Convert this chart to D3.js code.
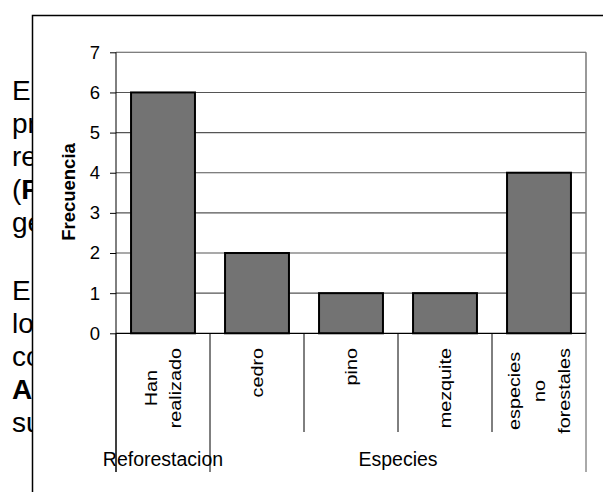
<!DOCTYPE html>
<html>
<head>
    <meta charset="utf-8">
    <title>Frecuencia</title>
    <style>
        body { margin: 0; background: #fff; }
        svg text { font-family: Arial, "Liberation Sans", sans-serif; }
    </style>
</head>
<body>
    <script src="https://cdnjs.cloudflare.com/ajax/libs/d3/7.9.0/d3.min.js"></script>
    <script>
        // chart data
        const categories = ["Han realizado", "cedro", "pino", "mezquite", "especies no forestales"];
        const catLines = [["Han", "realizado"], ["cedro"], ["pino"], ["mezquite"], ["especies", "no", "forestales"]];
        const values = [6, 2, 1, 1, 4];
        const groupNames = ["Reforestacion", "Especies"];
        const groupSpans = [1, 4];
        const yTicks = [0, 1, 2, 3, 4, 5, 6, 7];

        // page text behind the chart: only the part left of the frame shows
        const para1 = [["E"], ["pr"], ["re"], ["(", "F"], ["ge"]];
        const para2 = [["E"], ["lo"], ["co"], ["", "A"], ["su"]];

        const width = 603;
        const height = 492;

        const svg = d3.select("body")
            .append("svg")
            .attr("width", width)
            .attr("height", height)
            .style("font-family", "Arial, 'Liberation Sans', sans-serif");

        svg.append("clipPath").attr("id", "page")
            .append("rect").attr("x", 0).attr("y", 0).attr("width", 32).attr("height", height);

        const page = svg.append("g").attr("clip-path", "url(#page)");
        function drawPara(lines, y0) {
            lines.forEach((l, i) => {
                const t = page.append("text")
                    .attr("x", 12)
                    .attr("y", y0 + i * 33)
                    .attr("font-size", 28)
                    .attr("fill", "#000");
                if (l.length === 1) {
                    t.text(l[0]);
                } else {
                    t.append("tspan").text(l[0]);
                    t.append("tspan").attr("font-weight", "bold").text(l[1]);
                }
            });
        }
        drawPara(para1, 100);
        drawPara(para2, 300);

        // chart frame
        svg.append("path")
            .attr("d", `M32.5,${height}V15.5H${width}`)
            .attr("fill", "none")
            .attr("stroke", "#000")
            .attr("stroke-width", 1.5);

        const x = d3.scaleBand()
            .domain(categories)
            .range([116, 586]);

        const y = d3.scaleLinear()
            .domain([0, 7])
            .range([333.3, 52.3]);

        const barW = x.bandwidth() * 0.68;

        // gridlines
        svg.append("g")
            .selectAll("line")
            .data(yTicks.slice(1))
            .join("line")
            .attr("x1", x.range()[0]).attr("x2", x.range()[1])
            .attr("y1", d => y(d)).attr("y2", d => y(d))
            .attr("stroke", "#555")
            .attr("stroke-width", 1.1);

        // right border of plot
        svg.append("line")
            .attr("x1", x.range()[1]).attr("x2", x.range()[1])
            .attr("y1", y(7)).attr("y2", y(0))
            .attr("stroke", "#777")
            .attr("stroke-width", 1.5);

        // bars
        svg.append("g")
            .selectAll("rect")
            .data(values)
            .join("rect")
            .attr("x", (d, i) => x(categories[i]) + (x.bandwidth() - barW) / 2)
            .attr("y", d => y(d))
            .attr("width", barW)
            .attr("height", d => y(0) - y(d))
            .attr("fill", "#737373")
            .attr("stroke", "#000")
            .attr("stroke-width", 2);

        // y axis
        const yAxis = svg.append("g")
            .attr("transform", `translate(${x.range()[0]},0)`)
            .call(d3.axisLeft(y).tickValues(yTicks).tickFormat(d3.format("d")).tickSize(6).tickPadding(10));
        yAxis.attr("font-family", null);
        yAxis.select(".domain").remove();
        yAxis.selectAll("line").attr("stroke", "#000");
        yAxis.selectAll("text")
            .attr("font-size", 18.5)
            .attr("fill", "#000");

        svg.append("line")
            .attr("x1", x.range()[0]).attr("x2", x.range()[0])
            .attr("y1", y(7)).attr("y2", 472)
            .attr("stroke", "#000")
            .attr("stroke-width", 1);

        // x axis line
        svg.append("line")
            .attr("x1", x.range()[0]).attr("x2", x.range()[1])
            .attr("y1", y(0)).attr("y2", y(0))
            .attr("stroke", "#000")
            .attr("stroke-width", 1.2);

        // category separators: long at group borders, short otherwise
        const groupEdges = [0];
        groupSpans.forEach(s => groupEdges.push(groupEdges[groupEdges.length - 1] + s));
        d3.range(categories.length + 1).forEach(i => {
            const xp = x.range()[0] + i * x.step();
            const long = groupEdges.includes(i);
            svg.append("line")
                .attr("x1", xp).attr("x2", xp)
                .attr("y1", y(0)).attr("y2", long ? 472 : 432)
                .attr("stroke", i === categories.length ? "#555" : "#000")
                .attr("stroke-width", 1);
        });

        // category labels (rotated, longest line ends at the top)
        const lineGap = 25;
        catLines.forEach((lines, i) => {
            const cx = x(categories[i]) + x.bandwidth() / 2;
            const g = svg.append("g")
                .attr("transform", `translate(${cx},348) rotate(-90) scale(1.2,1)`);
            const texts = lines.map((l, j) => g.append("text")
                .attr("y", (j - (lines.length - 1) / 2) * lineGap + 6)
                .attr("text-anchor", "middle")
                .attr("font-size", 16.5)
                .attr("fill", "#000")
                .text(l));
            const maxW = d3.max(texts, t => t.node().getComputedTextLength());
            texts.forEach(t => t.attr("x", -maxW / 2));
        });

        // group labels
        let start = 0;
        groupNames.forEach((name, k) => {
            const x0 = x.range()[0] + start * x.step();
            const x1 = x0 + groupSpans[k] * x.step();
            svg.append("text")
                .attr("x", (x0 + x1) / 2)
                .attr("y", 466)
                .attr("text-anchor", "middle")
                .attr("font-size", 19.5)
                .attr("fill", "#000")
                .text(name);
            start += groupSpans[k];
        });

        // y title
        svg.append("text")
            .attr("transform", "translate(75,192) rotate(-90)")
            .attr("text-anchor", "middle")
            .attr("font-size", 18.5)
            .attr("font-weight", "bold")
            .attr("fill", "#000")
            .text("Frecuencia");
    </script>
</body>
</html>
